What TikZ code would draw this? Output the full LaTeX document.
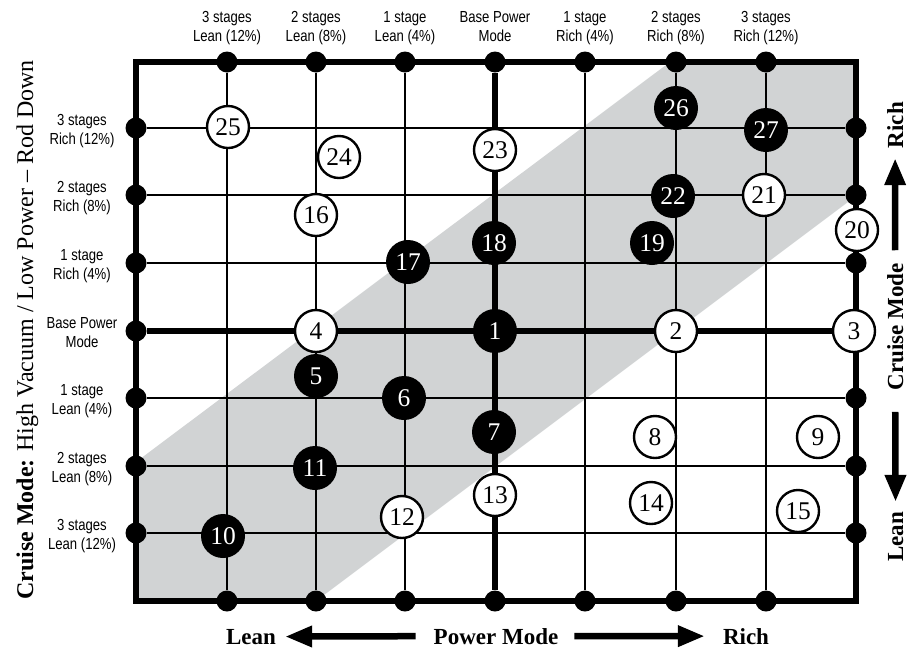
\documentclass[tikz,border=0pt]{standalone}
\usepackage{fontspec}
\setmainfont{Liberation Serif}
\newfontfamily\condsans[FakeStretch=0.82]{Liberation Sans}
\usetikzlibrary{arrows.meta,backgrounds}
\definecolor{band}{RGB}{209,211,212}
\tikzset{
  dot/.style={circle,fill=black,inner sep=0pt,minimum size=21pt},
  bnum/.style={circle,fill=black,text=white,inner sep=0pt,minimum size=44pt,font=\fontsize{25.5}{25.5}\selectfont},
  wnum/.style={circle,draw=black,fill=white,line width=2.4pt,inner sep=0pt,minimum size=42pt,font=\fontsize{25.5}{25.5}\selectfont},
  lbl/.style={align=center,inner sep=0pt,font=\condsans\fontsize{16}{19}\selectfont,anchor=base},
  gridline/.style={line width=2.4pt},
  heavyline/.style={line width=6pt},
  axis/.style={font=\bfseries\fontsize{23}{23}\selectfont,inner sep=0pt,anchor=base},
  bigarrow/.style={line width=6.5pt,-{Triangle[length=27pt,width=20pt]}},
}
\begin{document}
\begin{tikzpicture}[x=1pt,y=-1pt]
\useasboundingbox (0,0) rectangle (907,649);
% dots on the border
\foreach \x [count=\i] in {227,316,405,495,585,676,766} {
  \node[dot] (t\i) at (\x,62) {};
  \node[dot] (b\i) at (\x,601) {};
}
\foreach \y [count=\j] in {128,195,263,331,398,466,533} {
  \node[dot] (l\j) at (136,\y) {};
}
\foreach \y/\j in {128/1,195/2,263/3,398/5,466/6,533/7} {
  \node[dot] (r\j) at (856,\y) {};
}
\coordinate (nw) at (136,62);
\coordinate (se) at (856,601);
% black circles
\node[bnum] (n1) at (495,331) {1};
\node[bnum] (n5) at (316,376) {5};
\node[bnum] (n6) at (404,398) {6};
\node[bnum] (n7) at (494,432) {7};
\node[bnum] (n10) at (223,536) {10};
\node[bnum] (n11) at (315,468) {11};
\node[bnum] (n17) at (408,262) {17};
\node[bnum] (n18) at (494,243) {18};
\node[bnum] (n19) at (652,243) {19};
\node[bnum] (n22) at (673,196) {22};
\node[bnum] (n26) at (676,108) {26};
\node[bnum] (n27) at (766,130) {27};
% white circles
\node[wnum] (n2) at (676,331) {2};
\node[wnum] (n3) at (854,331) {3};
\node[wnum] (n4) at (316,331) {4};
\node[wnum] (n8) at (655,437) {8};
\node[wnum] (n9) at (818,437) {9};
\node[wnum] (n12) at (402,517) {12};
\node[wnum] (n13) at (495,495) {13};
\node[wnum] (n14) at (651,503) {14};
\node[wnum] (n15) at (798,511) {15};
\node[wnum] (n16) at (316,215) {16};
\node[wnum] (n20) at (857,230) {20};
\node[wnum] (n21) at (764,195) {21};
\node[wnum] (n23) at (495,150) {23};
\node[wnum] (n24) at (339,157) {24};
\node[wnum] (n25) at (228,127) {25};
% grid behind
\begin{scope}[on background layer]
  \fill[band] (136,462) -- (670,62) -- (856,62) -- (856,196) -- (316,601) -- (136,601) -- cycle;
  \foreach \i in {1,2,3,5,6,7} \draw[gridline] (t\i) -- (b\i);
  \foreach \j in {1,2,3,5,6,7} \draw[gridline] (l\j) -- (r\j);
  \draw[heavyline] (t4) -- (b4);
  \draw[heavyline] (l4) -- (n3);
  \draw[heavyline] (nw) rectangle (se);
\end{scope}
% column labels (anchor = baseline of the last line)
\node[lbl] (c1) at (227,41.5) {3 stages\\Lean (12\%)};
\node[lbl] (c2) at (316,41.5) {2 stages\\Lean (8\%)};
\node[lbl] (c3) at (405,41.5) {1 stage\\Lean (4\%)};
\node[lbl] (c4) at (495,41.5) {Base Power\\Mode};
\node[lbl] (c5) at (585,41.5) {1 stage\\Rich (4\%)};
\node[lbl] (c6) at (676,41.5) {2 stages\\Rich (8\%)};
\node[lbl] (c7) at (766,41.5) {3 stages\\Rich (12\%)};
% row labels
\node[lbl] (w1) at (82,144) {3 stages\\Rich (12\%)};
\node[lbl] (w2) at (82,211) {2 stages\\Rich (8\%)};
\node[lbl] (w3) at (82,279) {1 stage\\Rich (4\%)};
\node[lbl] (w4) at (82,347) {Base Power\\Mode};
\node[lbl] (w5) at (82,414) {1 stage\\Lean (4\%)};
\node[lbl] (w6) at (82,482) {2 stages\\Lean (8\%)};
\node[lbl] (w7) at (82,549) {3 stages\\Lean (12\%)};
% left title
\node[rotate=90,anchor=base,inner sep=0pt,font=\fontsize{24}{24}\selectfont] (title) at (33,330) {\textbf{Cruise Mode:} High Vacuum / Low Power – Rod Down};
% right axis
\node[axis,rotate=90] (rrich) at (903,125) {Rich};
\node[axis,rotate=90] (rcm) at (903,327) {Cruise Mode};
\node[axis,rotate=90] (rlean) at (903,537) {Lean};
\draw[bigarrow,shorten <=13pt,shorten >=10pt] (rcm.east) -- (rrich.west);
\draw[bigarrow,shorten <=21pt,shorten >=10pt] (rcm.west) -- (rlean.east);
% bottom axis
\node[axis] (blean) at (251,644) {Lean};
\node[axis] (bpm) at (496,644) {Power Mode};
\node[axis] (brich) at (746,644) {Rich};
\draw[bigarrow,shorten <=18pt,shorten >=9pt] (bpm.west) -- (blean.east);
\draw[bigarrow,shorten <=16pt,shorten >=18pt] (bpm.east) -- (brich.west);
\end{tikzpicture}
\end{document}
